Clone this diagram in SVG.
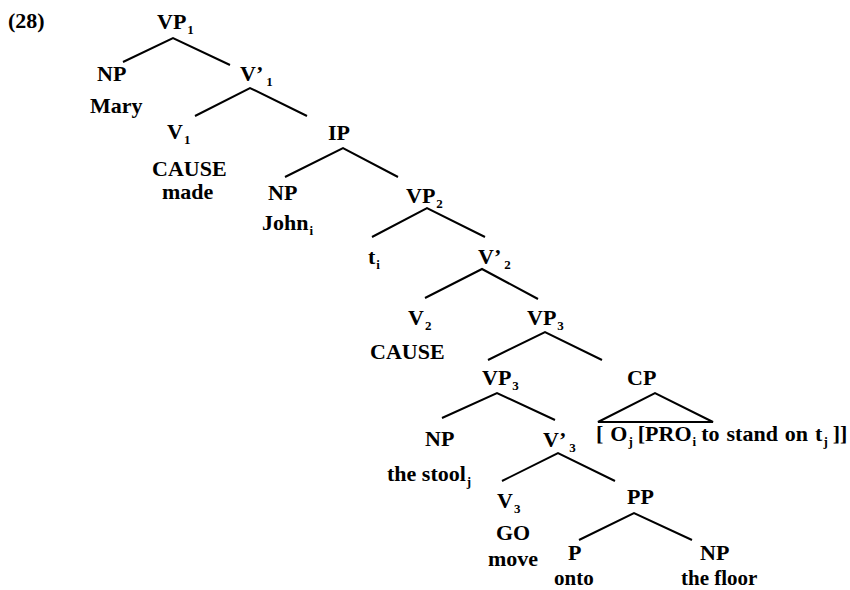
<svg xmlns="http://www.w3.org/2000/svg" width="850" height="590" viewBox="0 0 850 590">
<style>
.t{font-family:"Liberation Serif","Times New Roman",serif;font-weight:bold;font-size:22px;fill:#000}
.s{font-size:13px}
.b{font-size:21px}
.e{fill:none;stroke:#000;stroke-width:2;stroke-linejoin:miter;stroke-linecap:butt}
</style>
<rect width="850" height="590" fill="#fff"/>
<g id="connectors">
<polyline class="e" points="123,62 173,38 230,65"/>
<polyline class="e" points="195,116 250,88 307,116"/>
<polyline class="e" points="285,177 343,148 398,177"/>
<polyline class="e" points="372,237 427,208 485,237"/>
<polyline class="e" points="425,298 482,269 538,299"/>
<polyline class="e" points="488,360 545,332 602,360"/>
<polyline class="e" points="442,418 497,393 555,420"/>
<polygon class="e" points="598,422 655,393 713,422"/>
<polyline class="e" points="502,481 558,453 615,481"/>
<polyline class="e" points="579,540 634,513 692,540"/>
</g>
<g id="label-28"><text class="t" x="8" y="28">(28)</text></g>
<g id="n-vp1"><text class="t" x="157" y="29">VP<tspan class="s" dx="1" dy="5">1</tspan></text></g>
<g id="n-np-mary"><text class="t" x="97" y="81">NP</text><text class="t" x="90" y="113">Mary</text></g>
<g id="n-v1bar"><text class="t" x="240" y="81">V’<tspan class="s" dx="3" dy="5">1</tspan></text></g>
<g id="n-v1"><text class="t" x="167" y="139">V<tspan class="s" dx="1" dy="5">1</tspan></text><text class="t" x="152" y="176">CAUSE</text><text class="t" x="162" y="199">made</text></g>
<g id="n-ip"><text class="t" x="328" y="140">IP</text></g>
<g id="n-np-john"><text class="t" x="268" y="200">NP</text><text class="t" x="262" y="230">John<tspan class="s" dx="1" dy="5">i</tspan></text></g>
<g id="n-vp2"><text class="t" x="406" y="203">VP<tspan class="s" dx="1" dy="5">2</tspan></text></g>
<g id="n-t"><text class="t" x="368" y="264">t<tspan class="s" dx="1" dy="5">i</tspan></text></g>
<g id="n-v2bar"><text class="t" x="478" y="264">V’<tspan class="s" dx="3" dy="5">2</tspan></text></g>
<g id="n-v2"><text class="t" x="408" y="325">V<tspan class="s" dx="1" dy="5">2</tspan></text><text class="t" x="370" y="359">CAUSE</text></g>
<g id="n-vp3a"><text class="t" x="527" y="325">VP<tspan class="s" dx="1" dy="5">3</tspan></text></g>
<g id="n-vp3b"><text class="t" x="482" y="385">VP<tspan class="s" dx="1" dy="5">3</tspan></text></g>
<g id="n-cp"><text class="t" x="627" y="385">CP</text><text class="t" x="596" y="441" style="word-spacing:1.5px">[ O<tspan class="s" dx="1" dy="5">j</tspan><tspan dx="5" dy="-5">[PRO</tspan><tspan class="s" dx="1" dy="5">i</tspan><tspan dx="5" dy="-5">to stand on t</tspan><tspan class="s" dx="1" dy="5">j</tspan><tspan dx="5" dy="-5">]]</tspan></text></g>
<g id="n-np-stool"><text class="t" x="425" y="446">NP</text><text class="t" x="387" y="481">the stool<tspan class="s" dx="1" dy="5">j</tspan></text></g>
<g id="n-v3bar"><text class="t" x="543" y="447">V’<tspan class="s" dx="3" dy="5">3</tspan></text></g>
<g id="n-v3"><text class="t" x="497" y="508">V<tspan class="s" dx="1" dy="5">3</tspan></text><text class="t" x="496" y="540">GO</text><text class="t" x="488" y="566">move</text></g>
<g id="n-pp"><text class="t" x="627" y="504">PP</text></g>
<g id="n-p"><text class="t" x="568" y="560">P</text><text class="t b" x="554" y="585">onto</text></g>
<g id="n-np-floor"><text class="t" x="700" y="560">NP</text><text class="t b" x="681" y="585">the floor</text></g>
</svg>
